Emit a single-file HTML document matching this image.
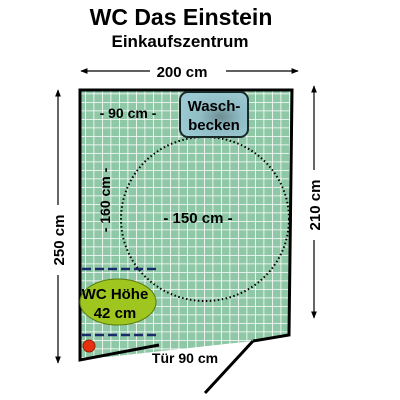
<!DOCTYPE html>
<html><head><meta charset="utf-8"><style>
body{margin:0;background:#fff;width:400px;height:400px;overflow:hidden}
svg{display:block;font-family:"Liberation Sans",sans-serif;font-weight:bold}
</style></head><body>
<svg width="400" height="400" viewBox="0 0 400 400">
<defs>
<pattern id="grid" x="0" y="0" width="8.5" height="8.5" patternUnits="userSpaceOnUse">
<rect width="8.5" height="8.5" fill="#8fc8a6"/>
<path d="M0 0H8.5M0 0V8.5" stroke="#fff" stroke-width="1.6"/>
</pattern>
<radialGradient id="wg" cx="0.6" cy="0.55" r="0.6"><stop offset="0" stop-color="#6f8d94"/><stop offset="0.5" stop-color="#8fbcc5"/><stop offset="1" stop-color="#9ccad3"/></radialGradient>
<marker id="ah" viewBox="0 0 10 10" refX="9" refY="5" markerWidth="6" markerHeight="6" orient="auto-start-reverse"><path d="M0 1L10 5L0 9z" fill="#000"/></marker>
</defs>
<text x="181" y="25" font-size="23" text-anchor="middle">WC Das Einstein</text>
<text x="180" y="47" font-size="17" text-anchor="middle">Einkaufszentrum</text>
<g stroke="#000" stroke-width="1.2">
<line x1="150" y1="71" x2="81" y2="71" marker-end="url(#ah)"/>
<line x1="226" y1="71" x2="298" y2="71" marker-end="url(#ah)"/>
</g>
<text x="182" y="77" font-size="15" text-anchor="middle">200 cm</text>
<g stroke="#000" stroke-width="1.2">
<line x1="58" y1="205" x2="58" y2="90" marker-end="url(#ah)"/>
<line x1="58" y1="275" x2="58" y2="363" marker-end="url(#ah)"/>
</g>
<text transform="translate(64,240) rotate(-90)" font-size="15" text-anchor="middle">250 cm</text>
<g stroke="#000" stroke-width="1.2">
<line x1="314" y1="170" x2="314" y2="86" marker-end="url(#ah)"/>
<line x1="314" y1="240" x2="314" y2="318" marker-end="url(#ah)"/>
</g>
<text transform="translate(320,205) rotate(-90)" font-size="15" text-anchor="middle">210 cm</text>
<polygon points="80,90 292,90 289,335 253,341 80,360" fill="url(#grid)"/>
<polyline points="159,345 80,360 80,90 292,90 289,335 253,341" fill="none" stroke="#000" stroke-width="3"/>
<line x1="253" y1="341" x2="205" y2="393" stroke="#000" stroke-width="3"/>
<ellipse cx="205" cy="219" rx="84" ry="82" fill="none" stroke="#000" stroke-width="2" stroke-dasharray="1.5 2.5"/>
<rect x="180" y="92" width="68" height="45" rx="8" fill="url(#wg)" stroke="#1a2a2a" stroke-width="2"/>
<text x="214" y="111" font-size="15" text-anchor="middle">Wasch-</text>
<text x="214" y="130" font-size="15" text-anchor="middle">becken</text>
<text x="128" y="118" font-size="14" text-anchor="middle">- 90 cm -</text>
<text transform="translate(110,200) rotate(-90)" font-size="14" text-anchor="middle">- 160 cm -</text>
<text x="198" y="223" font-size="15" text-anchor="middle">- 150 cm -</text>
<g stroke="#1a2a6a" stroke-width="2.5" stroke-dasharray="9 4">
<line x1="82" y1="269" x2="157" y2="269"/>
<line x1="82" y1="335" x2="157" y2="335"/>
</g>
<ellipse cx="118" cy="302" rx="38" ry="23" fill="#9ec61e" stroke="#5a7a10" stroke-width="1"/>
<text x="115" y="299" font-size="15" text-anchor="middle">WC Höhe</text>
<text x="115" y="318" font-size="15" text-anchor="middle">42 cm</text>
<circle cx="89" cy="346" r="6" fill="#e83010" stroke="#902000" stroke-width="1"/>
<text x="185" y="363" font-size="14" text-anchor="middle">Tür 90 cm</text>
</svg>
</body></html>
